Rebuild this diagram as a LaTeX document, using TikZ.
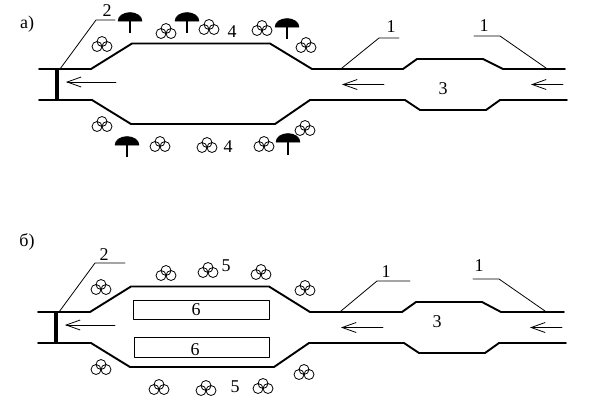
\documentclass[tikz,border=0pt]{standalone}
\usepackage{fontspec}
\setmainfont{Liberation Serif}
\usetikzlibrary{arrows.meta}
\tikzset{
  wall/.style={line width=1.9pt},
  gate/.style={line width=3.8pt,line cap=butt},
  leader/.style={line width=0.8pt},
  flow/.style={line width=0.8pt,-{Straight Barb[length=14pt,width=10pt,line width=0.8pt]}},
  tag/.style={font=\fontsize{18}{18}\selectfont,inner sep=0pt},
  bush/.style={line width=0.8pt},
  shade/.style={fill=black,draw=black,line width=0.5pt},
  bed/.style={line width=0.8pt}
}
\begin{document}
\begin{tikzpicture}[x=1pt,y=-1pt,line cap=round,line join=round]
  \useasboundingbox (0,0) rectangle (609,402);
  % a)
  \node[tag] (labA) at (27,24) {а)};
  \draw[wall] (39,69) -- (91,69) -- (132,43.5) -- (270,43.5) -- (312,69) -- (403,69) -- (417,59) -- (483,59) -- (503,69) -- (565,69);
  \draw[wall] (39,100) -- (92,100) -- (131,124) -- (275,124) -- (310,100) -- (405,100) -- (420,110) -- (486,110) -- (500,100) -- (567,100);
  \draw[gate] (57,69) -- (57,100);
  \draw[flow] (116,82) -- (66,82);
  \draw[flow] (384,84.5) -- (342,84.5);
  \draw[flow] (563,84.5) -- (531,84.5);
  \draw[leader] (60,69) -- (96,20) -- (115,20);
  \draw[leader] (342,68) -- (379,38) -- (399,38);
  \draw[leader] (546,68) -- (500,36) -- (474,36);
  \node[tag] (twoA) at (107,11) {2};
  \node[tag] (oneA) at (391,27) {1};
  \node[tag] (oneB) at (484,26) {1};
  \node[tag] (threeA) at (443,89) {3};
  \node[tag] (fourA) at (232,32) {4};
  \node[tag] (fourB) at (228,147) {4};
  % зонты
  \foreach \x/\y/\e in {130/21/33,187/21/33,287/27/39,127/145/157,288/142/155} {
    \draw[shade] (\x-12,\y) arc[start angle=180,end angle=360,x radius=12,y radius=8.5] -- cycle;
    \draw[line width=1.4pt,line cap=butt] (\x,\y) -- (\x,\e);
  }
  % кусты
  \foreach \x/\y in {102/44,166/31,209/27,262/28,306/45,102/124,160/144,207/145,264/144,305/128,
                     166/273,208/270,261/272,305/288,101/287,101/367,159/387,206/388,263/386,304/372} {
    \draw[bush] (\x,\y-2.5) circle (5);
    \draw[bush] (\x-5,\y+2.5) circle (5);
    \draw[bush] (\x+5,\y+2.5) circle (5);
  }
  % б)
  \node[tag] (labB) at (27,242) {б)};
  \draw[wall] (38,312) -- (90,312) -- (131,286.5) -- (269,286.5) -- (310,312) -- (402,312) -- (416,302) -- (482,302) -- (501,312) -- (564,312);
  \draw[wall] (38,343) -- (91,343) -- (130,367) -- (274,367) -- (309,343) -- (404,343) -- (419,353) -- (485,353) -- (499,343) -- (566,343);
  \draw[gate] (56,312) -- (56,343);
  \draw[flow] (115,325) -- (65,325);
  \draw[flow] (383,327.5) -- (341,327.5);
  \draw[flow] (562,327.5) -- (530,327.5);
  \draw[leader] (59,312) -- (95,263) -- (125,263);
  \draw[leader] (341,311) -- (377,281) -- (410,281);
  \draw[leader] (545,311) -- (499,279) -- (473,279);
  \node[tag] (twoB) at (104,255) {2};
  \node[tag] (oneC) at (386,272) {1};
  \node[tag] (oneD) at (479,266) {1};
  \node[tag] (threeB) at (437,322) {3};
  \node[tag] (fiveA) at (226,266) {5};
  \node[tag] (fiveB) at (235,387) {5};
  \draw[bed] (133.5,300) rectangle (269.5,319);
  \draw[bed] (134.5,337) rectangle (269.5,357);
  \node[tag] (sixA) at (196,309.5) {6};
  \node[tag] (sixB) at (195,350) {6};
\end{tikzpicture}
\end{document}
